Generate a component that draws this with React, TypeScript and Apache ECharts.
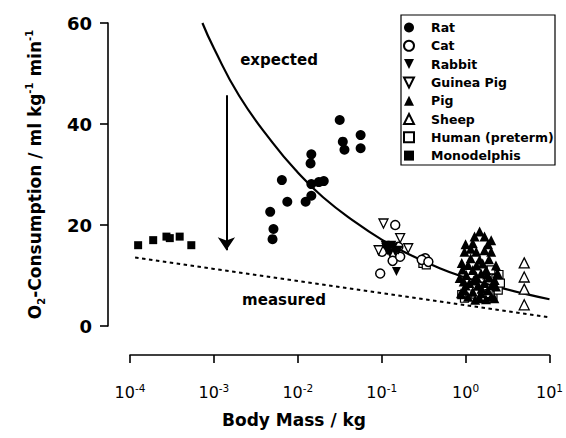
import React, { useEffect, useRef } from "react";
import * as echarts from "echarts";

const FONT = "'DejaVu Sans', 'Liberation Sans', sans-serif";

// Axis ranges / ticks
const massMin = 1e-4;
const massMax = 10;
const o2Ticks = [0, 20, 40, 60];

// Legend order
const legendNames = ["Rat", "Cat", "Rabbit", "Guinea Pig", "Pig", "Sheep", "Human (preterm)", "Monodelphis"];

// [body mass kg, O2 consumption ml/kg/min]
const ratData: [number, number][] = [
  [0.0316, 40.8], [0.0344, 36.5], [0.036, 34.9], [0.0561, 37.8], [0.0561, 35.2],
  [0.0145, 34.0], [0.0142, 32.2], [0.00646, 28.9], [0.0145, 28.1], [0.0204, 28.7],
  [0.0178, 28.5], [0.0075, 24.6], [0.0124, 24.6], [0.0145, 25.8], [0.00469, 22.6],
  [0.00513, 19.2], [0.005, 17.2],
];
const catData: [number, number][] = [
  [0.145, 20.0], [0.096, 10.4], [0.135, 12.9], [0.166, 13.7], [0.158, 15.7], [0.101, 14.7],
  [0.33, 13.4], [0.30, 13.1], [0.36, 12.7],
];
const rabbitData: [number, number][] = [
  [0.15, 10.8], [0.12, 15.4], [0.132, 16.0], [0.145, 14.7], [0.11, 16.0], [0.125, 14.4], [0.158, 15.0],
  [0.138, 15.6], [0.118, 14.9],
];
const guineaPigData: [number, number][] = [
  [0.105, 20.3], [0.166, 17.4], [0.207, 15.4], [0.092, 15.0], [0.115, 15.4],
];
const pigData: [number, number][] = [
  [1.47, 18.7], [1.28, 17.7], [1.68, 17.7], [1.22, 16.4], [2.02, 17.0], [0.97, 14.7],
  [1.34, 14.7], [1.68, 15.0], [2.02, 14.7], [1.47, 13.1], [1.07, 12.1], [1.22, 11.1],
  [1.02, 10.1], [1.34, 9.8], [1.53, 10.4], [1.76, 11.1], [0.95, 8.8], [1.11, 8.5],
  [1.41, 8.1], [1.68, 8.5], [1.84, 7.1], [0.97, 7.1], [1.22, 6.8], [1.53, 6.5],
  [2.02, 5.8], [1.07, 5.8], [1.47, 5.5], [2.22, 9.1], [2.3, 7.8], [1.15, 13.4],
  [1.6, 12.4], [1.9, 9.6], [0.85, 9.5], [0.9, 12.5], [1.0, 16.2], [2.3, 12.0],
  [2.4, 10.5], [0.88, 6.5], [1.3, 5.2], [1.75, 5.3], [2.2, 5.5], [1.15, 15.3],
  [1.85, 16.2], [1.35, 12.0], [1.9, 13.2], [0.92, 11.2], [2.1, 8.3], [1.25, 9.0],
  [1.55, 7.4], [1.0, 8.0], [1.8, 10.2],
];
const sheepData: [number, number][] = [
  [5.0, 12.5], [5.0, 9.7], [5.0, 7.3], [5.0, 4.2],
];
const humanData: [number, number][] = [
  [0.97, 5.5], [2.02, 11.1], [2.3, 9.4], [2.38, 7.8], [2.12, 6.1], [1.6, 5.8], [2.45, 7.1],
  [0.31, 12.4], [0.34, 12.1], [0.9, 6.2], [1.9, 6.4], [2.6, 8.5], [2.5, 10.2], [1.3, 6.3],
];
const monodelphisData: [number, number][] = [
  [1.25e-4, 16.0], [1.89e-4, 17.0], [2.72e-4, 17.7], [2.98e-4, 17.4], [3.91e-4, 17.7], [5.38e-4, 16.0],
];

// curves
const expectedMass = [7.3e-4, 1e-3, 2e-3, 5e-3, 1e-2, 2e-2, 5e-2, 0.1, 0.2, 0.5, 1, 2, 5, 10];
const expectedO2 = [60, 55, 45.6, 36.3, 30.4, 25.5, 20.4, 17.1, 14.4, 11.4, 9.6, 8.1, 6.4, 5.3];
const measuredMass = [1.15e-4, 1e-3, 1e-2, 0.1, 1, 10];
const measuredO2 = [13.55, 11.3, 8.9, 6.5, 4.1, 1.7];

// arrow annotation (mass, from, to)
const arrowMass = 1.41e-3;
const arrowFrom = 45.7;
const arrowTo = 15;

const downTri = "path://M0,0L10,0L5,10Z";

function scatter(name: string, data: [number, number][], symbol: string, size: number, open: boolean, bw = 1.3) {
  return {
    name,
    type: "scatter",
    data,
    symbol,
    symbolSize: size,
    itemStyle: open
      ? { color: "#fff", borderColor: "#000", borderWidth: bw, opacity: 1 }
      : { color: "#000", borderWidth: 0, opacity: 1 },
    z: 3,
  };
}

export default function App() {
  const ref = useRef<HTMLDivElement>(null);
  useEffect(() => {
    const chart = echarts.init(ref.current!, null, { renderer: "svg" });
    const option: any = {
      animation: false,
      backgroundColor: "#fff",
      grid: { left: 130, right: 14, top: 23, bottom: 112, containLabel: false },
      xAxis: {
        type: "log",
        logBase: 10,
        min: massMin,
        max: massMax,
        offset: 29,
        axisLine: { show: true, onZero: false, lineStyle: { color: "#000", width: 1.6 } },
        axisTick: { show: true, inside: false, length: 8, lineStyle: { color: "#000", width: 1.6 } },
        minorTick: { show: false },
        splitLine: { show: false },
        axisLabel: {
          margin: 27,
          formatter: (v: number) => `{b|10}{s|${Math.round(Math.log10(v))}}`,
          rich: {
            b: { fontFamily: FONT, fontSize: 16, color: "#000", lineHeight: 20 },
            s: { fontFamily: FONT, fontSize: 10.5, color: "#000", lineHeight: 11, verticalAlign: "top" },
          },
        },
      },
      yAxis: {
        type: "value",
        min: o2Ticks[0],
        max: o2Ticks[o2Ticks.length - 1],
        interval: 20,
        offset: 22,
        axisLine: { show: true, lineStyle: { color: "#000", width: 1.6 } },
        axisTick: { show: true, inside: false, length: 8, lineStyle: { color: "#000", width: 1.6 } },
        splitLine: { show: false },
        axisLabel: { margin: 16, fontFamily: FONT, fontWeight: "bold", fontSize: 18, color: "#000" },
        name: "{b|O}{sub|2}{b|-Consumption / ml kg}{sup|-1}{b| min}{sup|-1}",
        nameLocation: "middle",
        nameGap: 62,
        nameRotate: 90,
        nameTextStyle: {
          color: "#000",
          rich: {
            b: { fontFamily: FONT, fontWeight: "bold", fontSize: 17, color: "#000", lineHeight: 22 },
            sub: { fontFamily: FONT, fontWeight: "bold", fontSize: 10, color: "#000", lineHeight: 10, verticalAlign: "bottom" },
            sup: { fontFamily: FONT, fontWeight: "bold", fontSize: 10, color: "#000", lineHeight: 10, verticalAlign: "top" },
          },
        },
      },
      legend: {
        data: legendNames,
        orient: "vertical",
        left: 403,
        top: 21,
        padding: 0,
        itemWidth: 10,
        itemHeight: 10,
        itemGap: 5.3,
        selectedMode: false,
        textStyle: { fontFamily: FONT, fontWeight: "bold", fontSize: 12.5, color: "#000", lineHeight: 12, padding: [0, 0, 0, 12] },
      },
      graphic: [
        { type: "rect", shape: { x: 401, y: 15, width: 154, height: 150 }, style: { fill: "none", stroke: "#000", lineWidth: 1.2 }, silent: true },
        { type: "text", x: 279, y: 60, style: { text: "expected", fontFamily: FONT, fontWeight: "bold", fontSize: 15, fill: "#000", align: "center", verticalAlign: "middle" } },
        { type: "text", x: 284, y: 300, style: { text: "measured", fontFamily: FONT, fontWeight: "bold", fontSize: 15, fill: "#000", align: "center", verticalAlign: "middle" } },
        { type: "text", x: 294, y: 420, style: { text: "Body Mass / kg", fontFamily: FONT, fontWeight: "bold", fontSize: 17, fill: "#000", align: "center", verticalAlign: "middle" } },
      ],
      series: [
        {
          name: "expected",
          type: "line",
          data: expectedMass.map((m, i) => [m, expectedO2[i]]),
          smooth: true,
          symbol: "none",
          lineStyle: { color: "#000", width: 2.2 },
          z: 2,
        },
        {
          name: "measured",
          type: "line",
          data: measuredMass.map((m, i) => [m, measuredO2[i]]),
          symbol: "none",
          lineStyle: { color: "#000", width: 2, type: [3.5, 3.5] },
          z: 2,
          markLine: {
            silent: true,
            symbol: ["none", "arrow"],
            symbolSize: 13,
            label: { show: false },
            lineStyle: { color: "#000", width: 2, type: "solid" },
            data: [[{ coord: [arrowMass, arrowFrom] }, { coord: [arrowMass, arrowTo] }]],
          },
        },
        scatter("Rat", ratData, "circle", 10, false),
        scatter("Human (preterm)", humanData, "rect", 8, true, 1.2),
        scatter("Cat", catData, "circle", 9, true, 1.5),
        scatter("Guinea Pig", guineaPigData, downTri, 9, true),
        scatter("Rabbit", rabbitData, downTri, 9, false),
        scatter("Pig", pigData, "triangle", 10, false),
        scatter("Sheep", sheepData, "triangle", 10, true),
        scatter("Monodelphis", monodelphisData, "rect", 8, false),
      ],
    };
    chart.setOption(option);
    return () => chart.dispose();
  }, []);
  return (
    <div
      ref={ref}
      style={{ position: "fixed", left: 0, top: 0, width: 566, height: 438, background: "#fff" }}
    />
  );
}
